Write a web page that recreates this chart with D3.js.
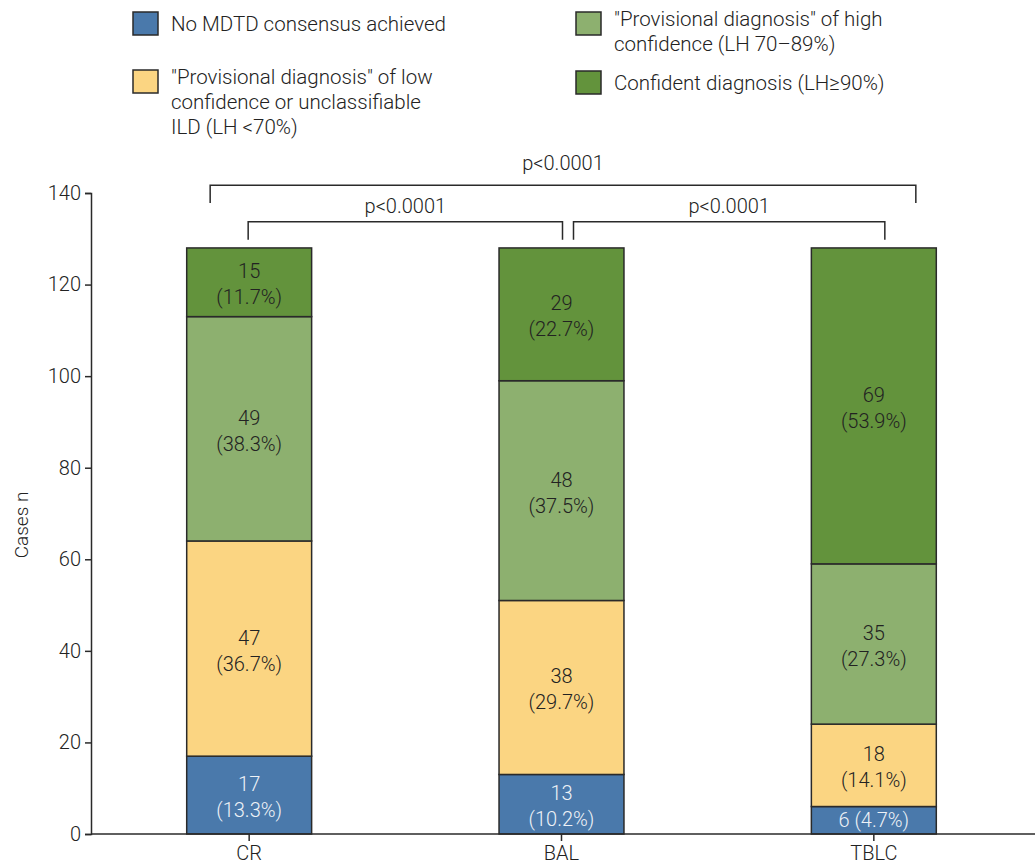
<!DOCTYPE html>
<html>
<head>
<meta charset="utf-8">
<script src="https://cdn.jsdelivr.net/npm/d3@7"></script>
<style>
  body { margin: 0; background: #fff; }
  svg { display: block; font-family: Roboto, "DejaVu Sans", sans-serif; font-weight: 300; }
</style>
</head>
<body>
<div id="chart"></div>
<script>
const groups = ['CR', 'BAL', 'TBLC'];
const noConsensus = [17, 13, 6];
const lowConfidence = [47, 38, 18];
const highConfidence = [49, 48, 35];
const confident = [15, 29, 69];
const pctNoConsensus = ['13.3%', '10.2%', '4.7%'];
const pctLow = ['36.7%', '29.7%', '14.1%'];
const pctHigh = ['38.3%', '37.5%', '27.3%'];
const pctConfident = ['11.7%', '22.7%', '53.9%'];
const yTicks = [0, 20, 40, 60, 80, 100, 120, 140];
const pLabels = ['p<0.0001', 'p<0.0001', 'p<0.0001'];

const ink = '#222';
const series = [
  { values: noConsensus, pct: pctNoConsensus, color: '#4a79ab', text: '#eef2f7' },
  { values: lowConfidence, pct: pctLow, color: '#fbd582', text: ink },
  { values: highConfidence, pct: pctHigh, color: '#8db06f', text: ink },
  { values: confident, pct: pctConfident, color: '#63933c', text: ink }
];

const W = 1035, H = 866;
const svg = d3.select('#chart').append('svg').attr('width', W).attr('height', H);

const x = d3.scaleBand().domain(groups).range([93, 1030]).paddingInner(0.6).paddingOuter(0.3);
const y = d3.scaleLinear().domain([0, 140]).range([834, 193]);

// stacked segments
const stackData = groups.map((g, i) => {
  let acc = 0;
  return series.map(s => {
    const seg = { g, v: s.values[i], pct: s.pct[i], y0: acc, y1: acc + s.values[i], color: s.color, text: s.text };
    acc += s.values[i];
    return seg;
  });
}).flat();

svg.append('g').selectAll('rect').data(stackData).join('rect')
  .attr('x', d => x(d.g)).attr('width', x.bandwidth())
  .attr('y', d => y(d.y1)).attr('height', d => y(d.y0) - y(d.y1))
  .attr('fill', d => d.color).attr('stroke', '#2a2a2a').attr('stroke-width', 1.5);

const lbl = svg.append('g').style('font-size', '20px').attr('text-anchor', 'middle');
stackData.forEach(d => {
  const cx = x(d.g) + x.bandwidth() / 2;
  const cy = (y(d.y0) + y(d.y1)) / 2;
  const t = lbl.append('text').attr('fill', d.text);
  if (y(d.y0) - y(d.y1) < 40) {
    t.attr('x', cx).attr('y', cy + 7).text(`${d.v} (${d.pct})`);
  } else {
    t.append('tspan').attr('x', cx).attr('y', cy - 4).text(d.v);
    t.append('tspan').attr('x', cx).attr('y', cy + 22).text(`(${d.pct})`);
  }
});

// axes
const yAxis = svg.append('g').attr('transform', 'translate(91,0)')
  .call(d3.axisLeft(y).tickValues(yTicks).tickSize(6).tickPadding(4));
const xAxis = svg.append('g').attr('transform', 'translate(0,834)')
  .call(d3.axisBottom(x).tickSize(7).tickPadding(5));
[yAxis, xAxis].forEach(a => {
  a.selectAll('path,line').attr('stroke', '#2a2a2a').attr('stroke-width', 1.5);
  a.selectAll('text').style('font-size', '20px').attr('fill', ink)
    .style('font-family', 'Roboto, sans-serif').style('font-weight', 300);
});
xAxis.select('.domain').attr('d', 'M91,0H1035');

svg.append('text').attr('transform', 'translate(28,525) rotate(-90)')
  .attr('text-anchor', 'middle').style('font-size', '19px').attr('fill', ink).text('Cases n');

// significance brackets
const cx = g => x(g) + x.bandwidth() / 2;
const brackets = [
  { x1: cx('CR') - 39, x2: cx('TBLC') + 42, top: 141.7, leg: 137.8, dy: -15, label: pLabels[0] },
  { x1: cx('CR') - 1, x2: cx('BAL') + 1, top: 133.7, leg: 129.8, dy: -9, label: pLabels[1] },
  { x1: cx('BAL') + 12, x2: cx('TBLC') + 11, top: 133.7, leg: 129.8, dy: -9, label: pLabels[2] }
];
const br = svg.append('g');
brackets.forEach(b => {
  br.append('path')
    .attr('d', `M${b.x1},${y(b.leg)}V${y(b.top)}H${b.x2}V${y(b.leg)}`)
    .attr('fill', 'none').attr('stroke', '#2a2a2a').attr('stroke-width', 1.5);
  br.append('text').attr('x', (b.x1 + b.x2) / 2).attr('y', y(b.top) + b.dy)
    .attr('text-anchor', 'middle').style('font-size', '20px').attr('fill', ink).text(b.label);
});

// legend
const legendItems = [
  { color: series[0].color, x: 133, y: 12, lines: ['No MDTD consensus achieved'] },
  { color: series[1].color, x: 133, y: 70, lines: ['"Provisional diagnosis" of low', 'confidence or unclassifiable', 'ILD (LH <70%)'] },
  { color: series[2].color, x: 576, y: 12, lines: ['"Provisional diagnosis" of high', 'confidence (LH 70\u201389%)'] },
  { color: series[3].color, x: 576, y: 71, lines: ['Confident diagnosis (LH\u226590%)'] }
];
const lg = svg.append('g');
legendItems.forEach(it => {
  lg.append('rect').attr('x', it.x).attr('y', it.y).attr('width', 25).attr('height', 23)
    .attr('fill', it.color).attr('stroke', '#2a2a2a').attr('stroke-width', 1.5);
  const firstBase = it.lines.length === 1 ? it.y + 19 : it.y + 14;
  it.lines.forEach((ln, k) => {
    lg.append('text').attr('x', it.x + 38).attr('y', firstBase + k * 25)
      .style('font-size', '20.5px').attr('fill', ink).text(ln);
  });
});
</script>
</body>
</html>
